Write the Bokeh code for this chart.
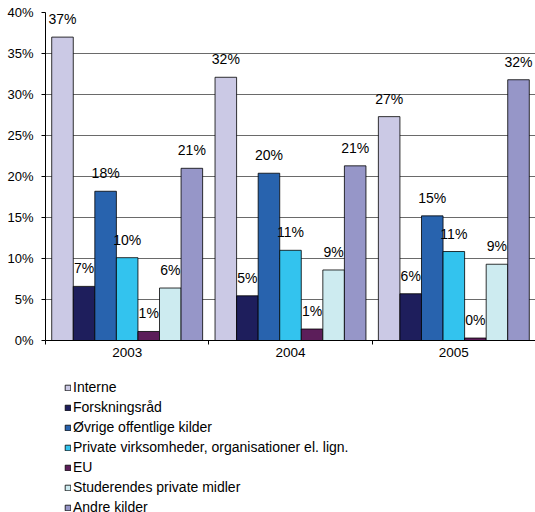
import numpy as np
from bokeh.plotting import figure
from bokeh.layouts import column
from bokeh.models import (Range1d, LinearAxis, FixedTicker, PrintfTickFormatter,
                          Legend, LegendItem, ColumnDataSource, Grid)
from bokeh.transform import dodge
from bokeh.core.properties import value
from bokeh.embed import file_html
from bokeh.resources import INLINE

years = ["2003", "2004", "2005"]
series_names = ["Interne", "Forskningsråd", "Øvrige offentlige kilder",
                "Private virksomheder, organisationer el. lign.", "EU",
                "Studerendes private midler", "Andre kilder"]
interne = [37.0, 32.1, 27.3]
forskningsraad = [6.6, 5.45, 5.7]
oevrige = [18.2, 20.4, 15.2]
private = [10.1, 11.0, 10.85]
eu = [1.1, 1.4, 0.3]
studerendes = [6.4, 8.6, 9.3]
andre = [21.0, 21.3, 31.8]
y_ticks = [0, 5, 10, 15, 20, 25, 30, 35, 40]

colors = ["#CBC9E5", "#1E1E5C", "#2863AE", "#33C3EE", "#5C1E5A", "#CDEBF0", "#9696C8"]
series_values = [interne, forskningsraad, oevrige, private, eu, studerendes, andre]
keys = ["s%d" % i for i in range(len(series_names))]

centers = list(np.arange(len(years)) + 0.5)
data = {"year": years, "xc": centers}
for k, vals in zip(keys, series_values):
    data[k] = vals
    data[k + "_lbl"] = ["%d%%" % round(v) for v in vals]
src = ColumnDataSource(data)

FONT = "Liberation Sans"
W = 535
p = figure(x_range=Range1d(0, len(years)), y_range=Range1d(0, 40),
           width=W, height=374, output_backend="svg", toolbar_location=None,
           x_axis_type=None, y_axis_type=None,
           min_border_top=12, min_border_left=45, min_border_right=0, min_border_bottom=34)
p.outline_line_color = None

yaxis = LinearAxis(ticker=FixedTicker(ticks=y_ticks), formatter=PrintfTickFormatter(format="%d%%"),
                   axis_line_color="black", major_tick_line_color="black",
                   major_tick_out=4, major_tick_in=0, minor_tick_line_color=None,
                   major_label_standoff=8, major_label_text_font=FONT,
                   major_label_text_font_size="13px", major_label_text_color="black")
p.add_layout(yaxis, "left")

xaxis = LinearAxis(ticker=FixedTicker(ticks=centers, minor_ticks=list(range(len(years) + 1))),
                   major_label_overrides={c: y for c, y in zip(centers, years)},
                   axis_line_color="black", major_tick_line_color=None,
                   major_tick_out=4, major_tick_in=0, minor_tick_out=4, minor_tick_in=0,
                   minor_tick_line_color="black", major_label_standoff=3,
                   major_label_text_font=FONT, major_label_text_font_size="13.5px",
                   major_label_text_color="black")
p.add_layout(xaxis, "below")

p.add_layout(Grid(dimension=1, ticker=FixedTicker(ticks=y_ticks), grid_line_color="#6a6a6a",
                  grid_line_width=1))

bw = 0.132
for i, (k, c) in enumerate(zip(keys, colors)):
    off = (i - 3) * bw
    p.vbar(x=dodge("xc", off), top=k, width=bw, source=src,
           fill_color=c, line_color="black", line_width=0.8)
    p.text(x=dodge("xc", off), y=k, text=k + "_lbl", source=src,
           text_align="center", text_baseline="middle", y_offset=-18,
           text_font=value(FONT), text_font_size="14px", text_color="black")

# legend panel (swatch renderers sit outside the visible range; only their legend entries show)
p2 = figure(x_range=Range1d(0, 1), y_range=Range1d(0, 1), width=W, height=138,
            output_backend="svg", toolbar_location=None, x_axis_type=None, y_axis_type=None,
            min_border_left=0, min_border_right=0, min_border_top=0, min_border_bottom=0)
p2.outline_line_color = None
p2.grid.visible = False
items = []
for name, c in zip(series_names, colors):
    r = p2.vbar(x=[-5], top=[-5], bottom=[-6], width=0.1, fill_color=c,
                line_color="black", line_width=0.8)
    items.append(LegendItem(label=name, renderers=[r]))
legend = Legend(items=items, location=(19, -5), orientation="vertical",
                glyph_width=7, glyph_height=7, label_height=20, label_standoff=2,
                spacing=0, padding=0, margin=0, border_line_color=None,
                background_fill_alpha=0, label_text_font=FONT,
                label_text_font_size="14px", label_text_color="black")
p2.add_layout(legend, "center")

layout = column(p, p2, spacing=0)
open("out.html", "w").write(file_html(layout, INLINE))
